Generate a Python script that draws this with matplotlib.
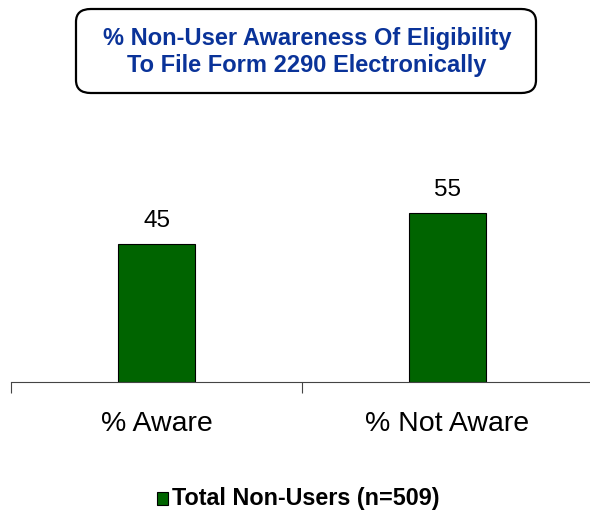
import matplotlib.pyplot as plt
from matplotlib.patches import FancyBboxPatch, Rectangle

# data
categories = ["% Aware", "% Not Aware"]
values = [45, 55]
series_name = "Total Non-Users (n=509)"
title = "% Non-User Awareness Of Eligibility\nTo File Form 2290 Electronically"

plt.rcParams['font.family'] = ['Liberation Sans', 'DejaVu Sans']

fig = plt.figure(figsize=(5.9, 5.12), dpi=100)
ax = fig.add_axes([11 / 590, 130 / 512, 582 / 590, 232 / 512])

x = range(len(categories))
bars = ax.bar(x, values, width=0.268, color="#006400", edgecolor="black", linewidth=0.8)
for b, v in zip(bars, values):
    ax.text(b.get_x() + b.get_width() / 2, v + 4, str(v), ha="center", va="bottom", fontsize=17.5)

ax.set_xlim(-0.5, 1.5)
ax.set_ylim(0, 232 / 3.07)
ax.set_xticks(list(x))
ax.set_xticklabels(categories, fontsize=20.5)
ax.tick_params(axis="x", which="major", length=0, pad=21)
ax.set_xticks([-0.5, 0.5, 1.5], minor=True)
ax.tick_params(axis="x", which="minor", length=8, width=0.8, direction="out", color="#444444")
ax.set_yticks([])
for s in ["top", "right", "left"]:
    ax.spines[s].set_visible(False)
ax.spines["bottom"].set_color("#444444")
ax.spines["bottom"].set_linewidth(0.8)

# title box
box = FancyBboxPatch((76 / 590, 1 - 93 / 512), 460 / 590, 84 / 512,
                     boxstyle="round,pad=0,rounding_size=0.025",
                     transform=fig.transFigure, facecolor="white",
                     edgecolor="black", linewidth=1.6)
fig.patches.append(box)
fig.text(307 / 590, 1 - 52 / 512, title, ha="center", va="center",
         fontsize=17, fontweight="bold", color="#0a3399", linespacing=1.25)

# legend
fig.patches.append(Rectangle((157 / 590, 1 - 505 / 512), 11 / 590, 13 / 512,
                             transform=fig.transFigure, facecolor="#006400",
                             edgecolor="black", linewidth=0.8))
fig.text(172 / 590, 1 - 498 / 512, series_name, ha="left", va="center",
         fontsize=16.8, fontweight="bold", color="black")

fig.savefig("out.png", dpi=100)
